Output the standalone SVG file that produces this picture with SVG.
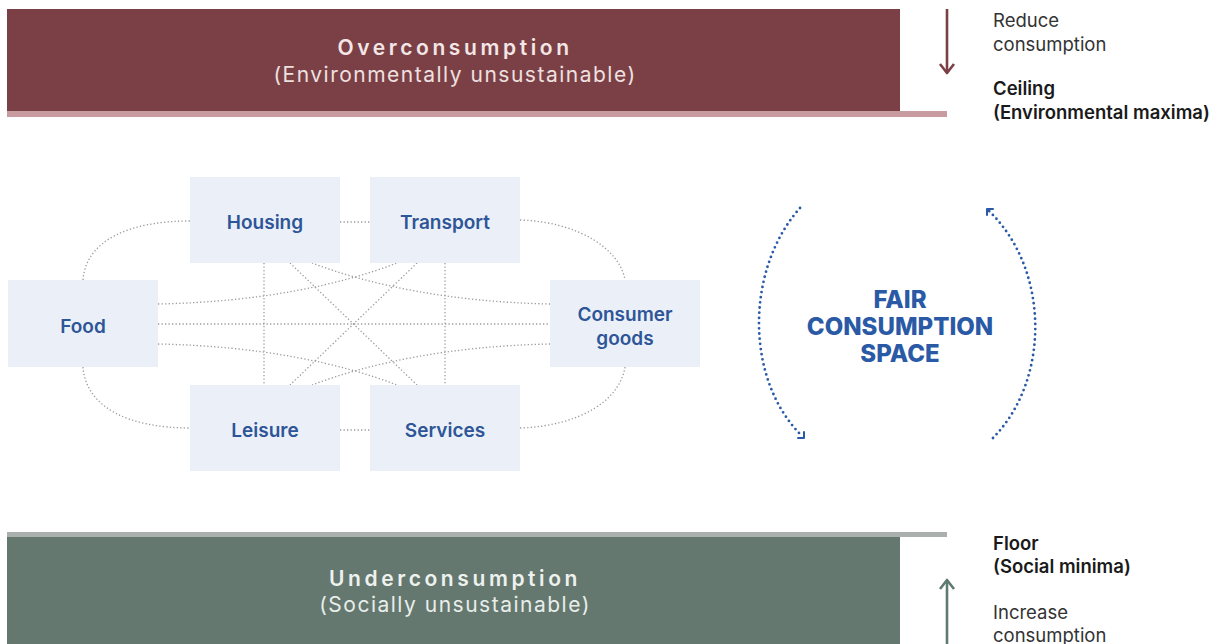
<svg xmlns="http://www.w3.org/2000/svg" width="1221" height="644" viewBox="0 0 1221 644">
<style>
.bg{fill:#ffffff}
.node rect{fill:#ebf0f8}
.node text{font-family:Inter,"Noto Sans",sans-serif;font-size:19px;font-weight:600;fill:#2e5597;text-anchor:middle}
.conn path{fill:none;stroke:#9b9b9b;stroke-width:1.3;stroke-dasharray:1.3 2.2}
.bartitle{font-family:Inter,"Noto Sans",sans-serif;font-size:21px;font-weight:600;letter-spacing:3.6px;text-anchor:middle}
.barsub{font-family:Inter,"Noto Sans",sans-serif;font-size:21px;font-weight:400;letter-spacing:1.5px;text-anchor:middle}
.side{font-family:Inter,"Noto Sans",sans-serif;font-size:18.5px;fill:#333333}
.sideb{font-family:Inter,"Noto Sans",sans-serif;font-size:18.5px;font-weight:600;fill:#1a1a1a}
.fair{font-family:Inter,"Noto Sans",sans-serif;font-size:24px;font-weight:800;fill:#2a5aa6;text-anchor:middle}
.arc{fill:none;stroke:#2a5aa6;stroke-width:2.8;stroke-linecap:round;stroke-dasharray:0 5.2}
.arch{fill:none;stroke:#2a5aa6;stroke-width:2;stroke-linecap:round;stroke-linejoin:round}
</style>
<rect class="bg" x="0" y="0" width="1221" height="644"/>

<g id="overconsumption">
<rect x="7" y="9" width="893" height="102" fill="#7b4045"/>
<rect x="7" y="111" width="940" height="6" fill="#c79b9f"/>
<text class="bartitle" x="455" y="55" fill="#f3e6e6">Overconsumption</text>
<text class="barsub" x="455" y="82" fill="#efe0e0">(Environmentally unsustainable)</text>
</g>

<g id="ceiling-labels">
<line x1="947" y1="9" x2="947" y2="73" stroke="#7b4045" stroke-width="2.6"/>
<path d="M940,64 L947,73 L954,64" fill="none" stroke="#7b4045" stroke-width="2.6" stroke-linejoin="round"/>
<text class="side" x="993" y="27">Reduce</text>
<text class="side" x="993" y="51">consumption</text>
<text class="sideb" x="993" y="95">Ceiling</text>
<text class="sideb" x="993" y="119">(Environmental maxima)</text>
</g>

<g id="underconsumption">
<rect x="7" y="532" width="940" height="5" fill="#a9b0ad"/>
<rect x="7" y="537" width="893" height="107" fill="#65786f"/>
<text class="bartitle" x="455" y="586" fill="#eef2ef">Underconsumption</text>
<text class="barsub" x="455" y="612" fill="#e8eeea">(Socially unsustainable)</text>
</g>

<g id="floor-labels">
<line x1="947" y1="580" x2="947" y2="644" stroke="#5f7a70" stroke-width="2.6"/>
<path d="M940,589 L947,580 L954,589" fill="none" stroke="#5f7a70" stroke-width="2.6" stroke-linejoin="round"/>
<text class="sideb" x="993" y="550">Floor</text>
<text class="sideb" x="993" y="573">(Social minima)</text>
<text class="side" x="993" y="619">Increase</text>
<text class="side" x="993" y="642">consumption</text>
</g>

<g id="connectors" class="conn">
<path d="M340,222 L370,222"/>
<path d="M340,430 L370,430"/>
<path d="M264,263 L264,385"/>
<path d="M445,263 L445,385"/>
<path d="M290,263 L417,385"/>
<path d="M417,263 L290,385"/>
<path d="M158,324 L550,324"/>
<path d="M158,304 C260,302 340,285 397,263"/>
<path d="M312,263 C370,285 450,302 550,304"/>
<path d="M158,344 C260,346 340,363 397,385"/>
<path d="M312,385 C370,363 450,346 550,344"/>
<path d="M83,280 C86,240 130,221 190,221"/>
<path d="M83,367 C86,408 130,428 190,428"/>
<path d="M520,220 C580,222 620,250 625,280"/>
<path d="M520,428 C580,426 620,400 625,367"/>
</g>

<g id="node-housing" class="node"><rect x="190" y="177" width="150" height="86"/><text x="265" y="229">Housing</text></g>
<g id="node-transport" class="node"><rect x="370" y="177" width="150" height="86"/><text x="445" y="229">Transport</text></g>
<g id="node-food" class="node"><rect x="8" y="280" width="150" height="87"/><text x="83" y="333">Food</text></g>
<g id="node-consumer-goods" class="node"><rect x="550" y="280" width="150" height="87"/><text x="625" y="321">Consumer</text><text x="625" y="345">goods</text></g>
<g id="node-leisure" class="node"><rect x="190" y="385" width="150" height="86"/><text x="265" y="437">Leisure</text></g>
<g id="node-services" class="node"><rect x="370" y="385" width="150" height="86"/><text x="445" y="437">Services</text></g>

<g id="fair-consumption-space">
<path class="arc" d="M800,208 C745,270 745,380 802,436"/>
<path class="arch" d="M798,438 L804,438 L804,432"/>
<path class="arc" d="M993,438 C1050,380 1050,270 989,211"/>
<path class="arch" d="M993,209 L987,209 L987,215"/>
<text class="fair" x="900" y="308">FAIR</text>
<text class="fair" x="900" y="335">CONSUMPTION</text>
<text class="fair" x="900" y="362">SPACE</text>
</g>
</svg>
